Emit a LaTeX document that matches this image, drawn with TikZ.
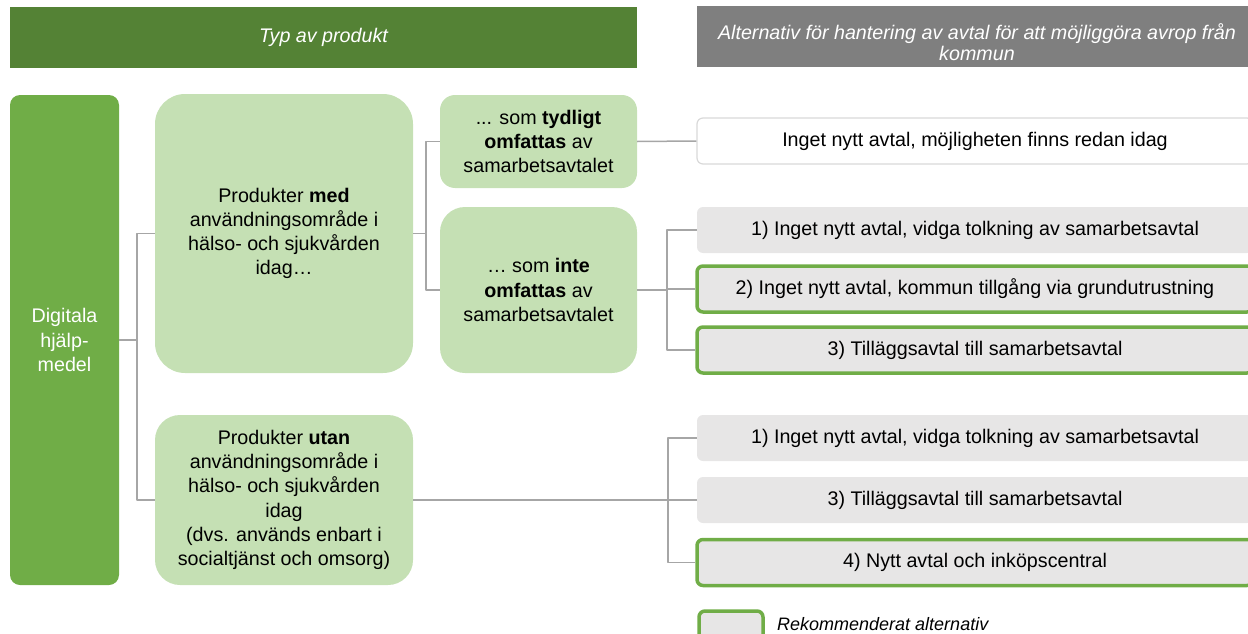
\documentclass[tikz,border=0pt]{standalone}
\usepackage{fontspec}
\setmainfont{Liberation Sans}

\definecolor{darkgreen}{HTML}{548235}
\definecolor{midgreen}{HTML}{70AD47}
\definecolor{palegreen}{HTML}{C5E0B4}
\definecolor{headgray}{HTML}{7F7F7F}
\definecolor{boxgray}{HTML}{E7E6E6}
\definecolor{linegray}{HTML}{A6A6A6}
\definecolor{edgegray}{HTML}{D9D9D9}

\begin{document}
\begin{tikzpicture}[
    x=1pt,
    y=-1pt,
    line join=round,
    every node/.style={
        font=\fontsize{19.7}{24.2}\selectfont,
        inner sep=0pt,
        align=center
    },
    headbar/.style={
        fill=#1,
        minimum height=61pt,
        text=white,
        font=\fontsize{19.7}{22}\selectfont\itshape
    },
    headtext/.style={
        text=white,
        font=\fontsize{19.7}{21.5}\selectfont\itshape
    },
    rootbox/.style={
        fill=midgreen,
        rounded corners=10pt,
        text=white,
        minimum width=109pt,
        minimum height=490pt
    },
    prodbox/.style={
        fill=palegreen,
        text=black
    },
    optbox/.style={
        fill=boxgray,
        rounded corners=6pt,
        minimum width=556pt,
        minimum height=46pt
    },
    recbox/.style={
        optbox,
        draw=midgreen,
        line width=3.5pt
    },
    conn/.style={
        draw=linegray,
        line width=1.5pt
    }
]

\clip (0,0) rectangle (1248,634);

% -------------------------------------------------
% Column headers
% -------------------------------------------------

\node[headbar=darkgreen, minimum width=627pt] (typhead) at (323.5,37.5)
    {Typ av produkt};

\node[headbar=headgray, minimum width=560pt] (althead) at (977,36.5) {};
\node[headtext] (alttext) at (977,42)
    {Alternativ för hantering av avtal för att möjliggöra avrop från\\kommun};

% -------------------------------------------------
% Product types
% -------------------------------------------------

\node[rootbox] (digital) at (64.5,340) {Digitala\\hjälp-\\medel};

\node[prodbox, rounded corners=30pt, minimum width=258pt, minimum height=279pt]
    (medprod) at (284,233.5)
    {Produkter \textbf{med}\\användningsområde i\\hälso- och sjukvården\\idag…};

\node[prodbox, rounded corners=15pt, minimum width=197pt, minimum height=93pt]
    (tydprod) at (538.5,141.5)
    {... som \textbf{tydligt}\\\textbf{omfattas} av\\samarbetsavtalet};

\node[prodbox, rounded corners=25pt, minimum width=197pt, minimum height=166pt]
    (inteprod) at (538.5,290)
    {… som \textbf{inte}\\\textbf{omfattas} av\\samarbetsavtalet};

\node[prodbox, rounded corners=25pt, minimum width=258pt, minimum height=170pt]
    (utanprod) at (284,500)
    {Produkter \textbf{utan}\\användningsområde i\\hälso- och sjukvården\\idag\\(dvs. används enbart i\\socialtjänst och omsorg)};

% -------------------------------------------------
% Alternatives
% -------------------------------------------------

\node[optbox, fill=white, draw=edgegray, line width=1.2pt] (noneed) at (975,141)
    {Inget nytt avtal, möjligheten finns redan idag};

\node[optbox] (opt1) at (975,230)
    {1) Inget nytt avtal, vidga tolkning av samarbetsavtal};
\node[recbox] (opt2) at (975,289)
    {2) Inget nytt avtal, kommun tillgång via grundutrustning};
\node[recbox] (opt3) at (975,350)
    {3) Tilläggsavtal till samarbetsavtal};

\node[optbox] (low1) at (975,438)
    {1) Inget nytt avtal, vidga tolkning av samarbetsavtal};
\node[optbox] (low3) at (975,500)
    {3) Tilläggsavtal till samarbetsavtal};
\node[recbox] (low4) at (975,562.5)
    {4) Nytt avtal och inköpscentral};

% -------------------------------------------------
% Legend
% -------------------------------------------------

\node[recbox, minimum width=64pt, minimum height=30pt] (legbox) at (731,626) {};
\node[anchor=west, font=\fontsize{18}{21}\selectfont\itshape] (legtext) at (777,624)
    {Rekommenderat alternativ};

% -------------------------------------------------
% Connectors
% -------------------------------------------------

\draw[conn] (digital.east) -- ++(18,0) |- (medprod.west);
\draw[conn] (digital.east) -- ++(18,0) |- (utanprod.west);

\draw[conn] (medprod.east) -- ++(13,0) |- (tydprod.west);
\draw[conn] (medprod.east) -- ++(13,0) |- (inteprod.west);

\draw[conn] (tydprod.east) -- (noneed.west);

\foreach \alt in {opt1,opt2,opt3}
    \draw[conn] (inteprod.east) -- ++(30,0) |- (\alt.west);

\foreach \alt in {low1,low3,low4}
    \draw[conn] (utanprod.east) -- ++(255,0) |- (\alt.west);

\end{tikzpicture}
\end{document}
